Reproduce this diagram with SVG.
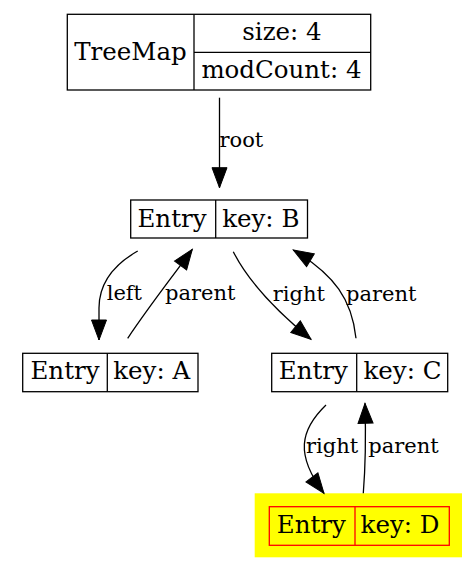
<svg xmlns="http://www.w3.org/2000/svg" width="470" height="565" viewBox="0 0 470 565">
<style>
.box{fill:#fff;stroke:#000;stroke-width:1.3}
.ln{fill:none;stroke:#000;stroke-width:1.3}
.nt{font-family:"DejaVu Serif",serif;font-size:24.5px;fill:#000;text-anchor:middle}
.et{font-family:"DejaVu Serif",serif;font-size:21px;fill:#000}
.edge{fill:none;stroke:#000;stroke-width:1.3;marker-end:url(#ah)}
</style>
<defs>
<marker id="ah" markerUnits="userSpaceOnUse" markerWidth="20" markerHeight="15" refX="20" refY="7.5" orient="auto" overflow="visible">
<path d="M0,0 L20,7.5 L0,15 Z" fill="#000" stroke="#000" stroke-width="1"/>
</marker>
</defs>
<rect width="470" height="565" fill="#fff"/>
<g id="treemap">
<rect class="box" x="67.3" y="14.3" width="303.4" height="75.7"/>
<line class="ln" x1="194" y1="14.3" x2="194" y2="90"/>
<line class="ln" x1="194" y1="52.3" x2="370.7" y2="52.3"/>
<text class="nt" x="130.5" y="59.5">TreeMap</text>
<text class="nt" x="282" y="40">size: 4</text>
<text class="nt" x="281.5" y="77.7">modCount: 4</text>
</g>
<g id="entryB">
<rect class="box" x="130.7" y="200" width="176.8" height="38"/>
<line class="ln" x1="215.7" y1="200" x2="215.7" y2="238"/>
<text class="nt" x="172" y="226.7">Entry</text>
<text class="nt" x="260.8" y="226.7">key: B</text>
</g>
<g id="entryA">
<rect class="box" x="22.7" y="353.3" width="175.3" height="38.4"/>
<line class="ln" x1="107.3" y1="353.3" x2="107.3" y2="391.7"/>
<text class="nt" x="65" y="379.3">Entry</text>
<text class="nt" x="151.7" y="379.3">key: A</text>
</g>
<g id="entryC">
<rect class="box" x="271.7" y="353.3" width="176" height="38.4"/>
<line class="ln" x1="356.7" y1="353.3" x2="356.7" y2="391.7"/>
<text class="nt" x="313.3" y="379.3">Entry</text>
<text class="nt" x="402.5" y="379.3">key: C</text>
</g>
<g id="entryD">
<rect x="254.7" y="493.3" width="207.3" height="64" fill="#ffff00"/>
<rect x="269.3" y="506.7" width="180" height="38.6" fill="none" stroke="#ff0000" stroke-width="1.3"/>
<line x1="355" y1="506.7" x2="355" y2="545.3" stroke="#ff0000" stroke-width="1.3"/>
<text class="nt" x="311.3" y="533">Entry</text>
<text class="nt" x="400" y="533">key: D</text>
</g>
<g id="connectors">
<path class="edge" d="M219.5,97.7 L219.5,187.7"/>
<text class="et" x="219.5" y="146.7">root</text>
<path class="edge" d="M137.7,251 C115,264 99,282 99,308 L99,340"/>
<text class="et" x="106.7" y="300">left</text>
<path class="edge" d="M127.7,338.3 C150,305 170,280 192.3,249.3"/>
<text class="et" x="165" y="300">parent</text>
<path class="edge" d="M233.3,251.7 C250,285 285,318 311,339.3"/>
<text class="et" x="272.7" y="301">right</text>
<path class="edge" d="M356,338.3 C352,300 335,275 293.3,250"/>
<text class="et" x="346" y="301">parent</text>
<path class="edge" d="M326,405 C300,430 295,455 324,493.3"/>
<text class="et" x="306" y="453.3">right</text>
<path class="edge" d="M363.3,493.3 C366,460 366,440 365,403.3"/>
<text class="et" x="368.3" y="453.3">parent</text>
</g>
</svg>
